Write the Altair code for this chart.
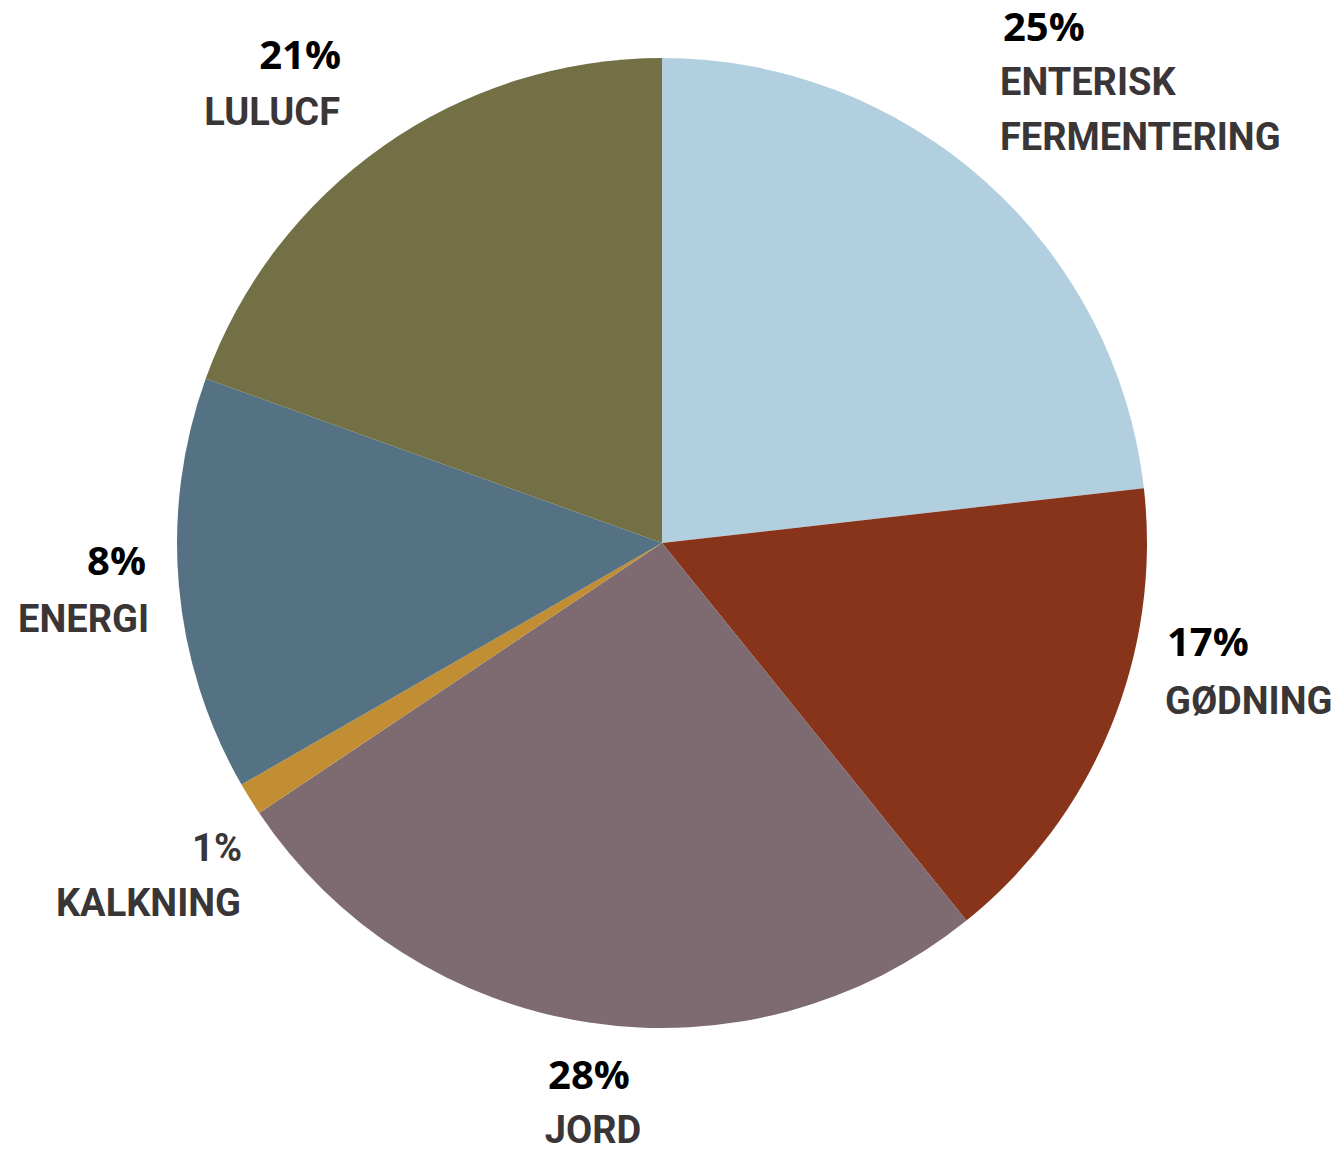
import altair as alt
import pandas as pd

# Slice data (clockwise from 12 o'clock), shares as drawn in the picture
categories = ["Enterisk fermentering", "Gødning", "Jord", "Kalkning", "Energi", "LULUCF"]
shares = [23.2, 16.0, 26.4, 1.1, 13.8, 19.5]
colors = ["#B2CFDF", "#88341B", "#7E6B71", "#C28E33", "#557284", "#727044"]

# Label texts
pct_labels = ["25%", "17%", "28%", "1%", "8%", "21%"]
name_lines = [["ENTERISK", "FERMENTERING"], ["GØDNING"], ["JORD"], ["KALKNING"], ["ENERGI"], ["LULUCF"]]

# Layout (pixel positions of labels, alignment) – not data
pct_pos = [(995, 21), (1159, 636), (581, 1069), (234, 842), (138, 555), (333, 49)]
name_pos = [[(992, 76), (992, 131)], [(1157, 695)], [(585, 1124)], [(233, 897)], [(141, 613)], [(332, 106)]]
aligns = ["left", "left", "center", "right", "right", "right"]

W, H = 1326, 1140
CX, CY, R = 654, 535, 485

pie_df = pd.DataFrame({"category": categories, "share": shares, "order": list(range(len(categories)))})

pie = alt.Chart(pie_df).mark_arc(radius=R).encode(
    theta=alt.Theta("share:Q", stack=True),
    order=alt.Order("order:Q"),
    color=alt.Color("category:N", scale=alt.Scale(domain=categories, range=colors), legend=None),
    x=alt.value(CX),
    y=alt.value(CY),
)

pct_rows = []
name_rows = []
for i in range(len(categories)):
    pct_rows.append({"text": pct_labels[i], "x": pct_pos[i][0], "y": pct_pos[i][1], "align": aligns[i],
                     "cond": pct_labels[i] == "1%"})
    for line, (x, y) in zip(name_lines[i], name_pos[i]):
        name_rows.append({"text": line, "x": x, "y": y, "align": aligns[i]})
pct_df = pd.DataFrame(pct_rows)
name_df = pd.DataFrame(name_rows)

layers = [pie]
for al in ["left", "center", "right"]:
    sub = pct_df[(pct_df["align"] == al) & (~pct_df["cond"])]
    if len(sub):
        layers.append(alt.Chart(sub).mark_text(
            align=al, baseline="middle", font="Open Sans", fontWeight="bold", fontSize=40, color="#000000"
        ).encode(x=alt.X("x:Q", scale=None), y=alt.Y("y:Q", scale=None), text="text:N"))
    sub2 = pd.concat([name_df[name_df["align"] == al],
                      pct_df[(pct_df["align"] == al) & (pct_df["cond"])][["text", "x", "y", "align"]]])
    if len(sub2):
        layers.append(alt.Chart(sub2).mark_text(
            align=al, baseline="middle", font="Roboto",
            fontWeight="bold", fontSize=38, color="#3A3536"
        ).encode(x=alt.X("x:Q", scale=None), y=alt.Y("y:Q", scale=None), text="text:N"))

chart = alt.layer(*layers).properties(
    width=W, height=H, padding=0, background="#FFFFFF",
    autosize=alt.AutoSizeParams(type="none")
).configure_view(stroke=None)

chart.save("out.html", embed_options={"renderer": "svg", "actions": False})
